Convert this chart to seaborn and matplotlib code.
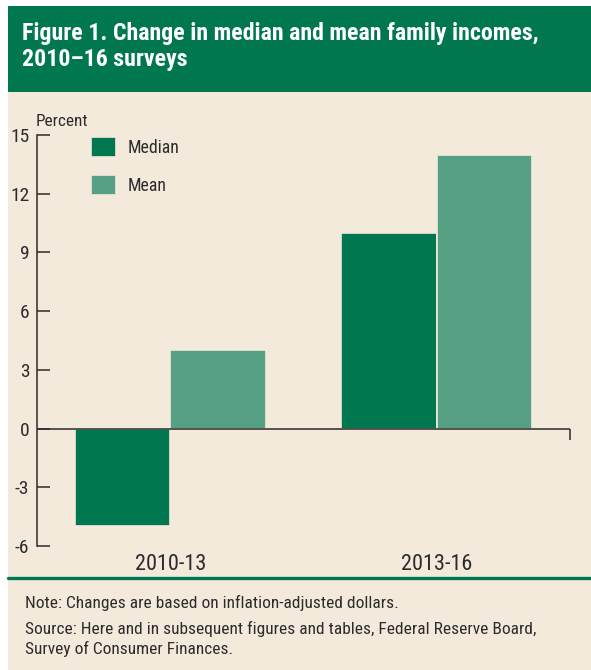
import matplotlib
matplotlib.use("Agg")
import matplotlib.pyplot as plt
from matplotlib.patches import Rectangle
from matplotlib.lines import Line2D
import seaborn as sns
import pandas as pd

# Data
periods = ["2010-13", "2013-16"]
measures = ["Median", "Mean"]
median_change = [-5, 10]
mean_change = [4, 14]
y_ticks = [-6, -3, 0, 3, 6, 9, 12, 15]

title = "Figure 1. Change in median and mean family incomes,\n2010–16 surveys"
note = "Note: Changes are based on inflation-adjusted dollars."
source = ("Source: Here and in subsequent figures and tables, Federal Reserve Board,\n"
          "Survey of Consumer Finances.")

BG = "#F4EADC"
HEADER = "#00774F"
DARK = "#00774E"
LIGHT = "#56A084"
INK = "#2B2B2B"

sns.set_theme(style="white")
plt.rcParams["font.family"] = ["Roboto Condensed", "DejaVu Sans"]
plt.rcParams["axes.unicode_minus"] = False

df = pd.DataFrame({
    "period": periods * 2,
    "measure": [measures[0]] * len(periods) + [measures[1]] * len(periods),
    "change": median_change + mean_change,
})

W, H = 591, 670
fig = plt.figure(figsize=(W / 100, H / 100), dpi=100, facecolor="white")


def fx(px):
    return px / W


def fy(py):
    return 1 - py / H


# Beige panel, green title band and the rule above the notes
fig.patches.append(Rectangle((fx(8), 0), 1 - fx(8), fy(92), transform=fig.transFigure,
                             facecolor=BG, edgecolor="none", zorder=-10))
fig.patches.append(Rectangle((fx(8), fy(92)), 1 - fx(8), fy(6) - fy(92), transform=fig.transFigure,
                             facecolor=HEADER, edgecolor="none", zorder=-10))
fig.add_artist(Line2D([fx(8), 1], [fy(578), fy(578)], color=HEADER, lw=2.4))

ax = fig.add_axes([fx(37), fy(546), fx(570) - fx(37), fy(135) - fy(546)])
ax.set_facecolor("none")
sns.barplot(data=df, x="period", y="change", hue="measure", palette=[DARK, LIGHT],
            width=0.717, edgecolor=BG, linewidth=1.2, saturation=1, errorbar=None, ax=ax)

ax.set_xlim(-0.5, 1.5)
ax.set_ylim(-6, 15)
ax.set_yticks(y_ticks)
ax.set_xlabel("")
ax.set_ylabel("")
for side in ["top", "right", "bottom"]:
    ax.spines[side].set_visible(False)
ax.spines["left"].set_color(INK)
ax.spines["left"].set_linewidth(1.1)
ax.tick_params(axis="y", direction="in", length=9.5, width=1.1, color=INK,
               labelsize=14, labelcolor=INK, pad=5.5, left=True)
ax.tick_params(axis="x", length=0, labelsize=16, labelcolor=INK, pad=6)

# Zero line with a short drop at its right end
ax.axhline(0, color=INK, lw=1.1, zorder=3)
ax.vlines(1.5, -0.56, 0, color=INK, lw=1.1, clip_on=False, zorder=3)

handles, labels = ax.get_legend_handles_labels()
ax.legend(handles, labels, loc="upper left", bbox_to_anchor=(fx(91), fy(137)),
          bbox_transform=fig.transFigure, frameon=False, borderpad=0, borderaxespad=0,
          handlelength=1.38, handleheight=1.38, handletextpad=0.7, labelspacing=1.0,
          fontsize=12.8, labelcolor=INK)

fig.text(fx(36), fy(121), "Percent", ha="left", va="center", fontsize=12.4, color=INK)

fig.text(fx(22), fy(46.5), title, ha="left", va="center", fontsize=17.2, fontweight="bold",
         color="white", linespacing=1.14)

fig.text(fx(25), fy(603), note, ha="left", va="center", fontsize=12.5, color=INK)
fig.text(fx(25), fy(639), source, ha="left", va="center", fontsize=12.5, color=INK,
         linespacing=1.27)

fig.savefig("out.png", dpi=100, facecolor=fig.get_facecolor())
